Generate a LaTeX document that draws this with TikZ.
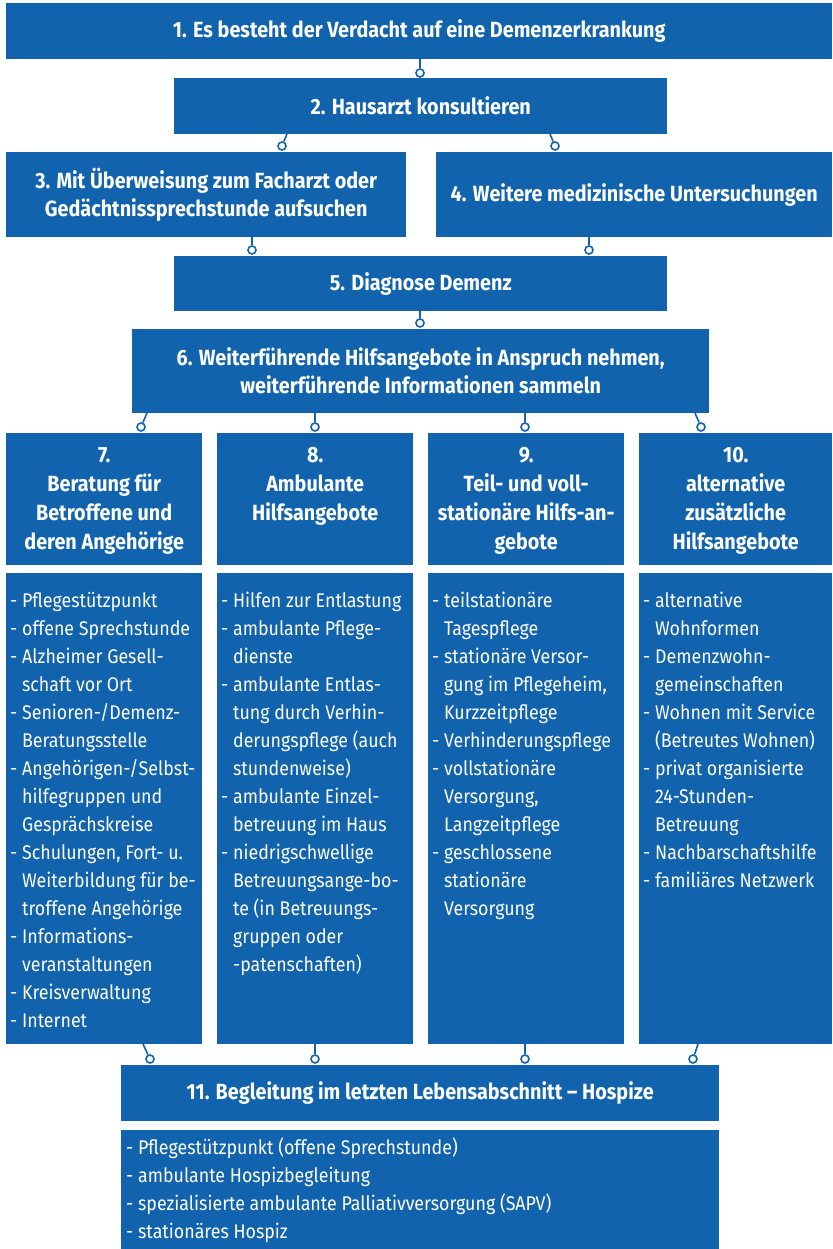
\documentclass[tikz,border=0pt]{standalone}
\usepackage{fontspec}
\setmainfont{Fira Sans}[FakeStretch=0.9]
\definecolor{bl}{RGB}{17,99,173}
\newcommand{\cont}{\hphantom{- }}
\begin{document}
\begin{tikzpicture}[x=1pt,y=-1pt,
  box/.style={fill=bl, draw=none, inner sep=0pt, anchor=north west, text=white,
    font=\bfseries\fontsize{22}{28}\selectfont, align=center},
  htext/.style={inner sep=0pt, anchor=north, text=white, align=center,
    font=\bfseries\fontsize{22}{29}\selectfont},
  ltext/.style={inner sep=0pt, anchor=north west, text=white, align=left,
    font=\fontsize{19.8}{28}\selectfont},
  dot/.style={circle, draw=bl, fill=white, line width=1.6pt, inner sep=0pt, minimum size=8pt},
  conn/.style={draw=bl, line width=1.6pt}]
\useasboundingbox (0,0) rectangle (832,1249);
% main boxes
\node[box, minimum width=826pt, minimum height=56pt] (b1) at (6,3) {1. Es besteht der Verdacht auf eine Demenzerkrankung};
\node[box, minimum width=493pt, minimum height=56pt] (b2) at (174,78) {2. Hausarzt konsultieren};
\node[box, minimum width=400pt, minimum height=85pt] (b3) at (6,152) {3. Mit Überweisung zum Facharzt oder\\Gedächtnissprechstunde aufsuchen};
\node[box, minimum width=396pt, minimum height=85pt] (b4) at (436,152) {4. Weitere medizinische Untersuchungen};
\node[box, minimum width=493pt, minimum height=55pt] (b5) at (174,256) {5. Diagnose Demenz};
\node[box, minimum width=577pt, minimum height=84pt] (b6) at (132,329) {6. Weiterführende Hilfsangebote in Anspruch nehmen,\\weiterführende Informationen sammeln};
% headers
\node[box, minimum width=196pt, minimum height=132pt] (h7) at (6,433) {};
\node[box, minimum width=196pt, minimum height=132pt] (h8) at (217,433) {};
\node[box, minimum width=196pt, minimum height=132pt] (h9) at (428,433) {};
\node[box, minimum width=193pt, minimum height=132pt] (h10) at (639,433) {};
\node[htext] (t7) at ([yshift=-14pt]h7.north) {7.\\Beratung für\\Betroffene und\\deren Angehörige};
\node[htext] (t8) at ([yshift=-14pt]h8.north) {8.\\Ambulante\\Hilfsangebote};
\node[htext] (t9) at ([yshift=-14pt]h9.north) {9.\\Teil- und voll-\\stationäre Hilfs-an-\\gebote};
\node[htext] (t10) at ([yshift=-14pt]h10.north) {10.\\alternative\\zusätzliche\\Hilfsangebote};
% lists
\node[box, minimum width=196pt, minimum height=471pt] (l7) at (6,573) {};
\node[box, minimum width=196pt, minimum height=471pt] (l8) at (217,573) {};
\node[box, minimum width=196pt, minimum height=471pt] (l9) at (428,573) {};
\node[box, minimum width=193pt, minimum height=471pt] (l10) at (639,573) {};
\node[ltext] (u7) at ([xshift=4pt,yshift=-19pt]l7.north west) {- Pflegestützpunkt\\- offene Sprechstunde\\- Alzheimer Gesell-\\\cont schaft vor Ort\\- Senioren-/Demenz-\\\cont Beratungsstelle\\- Angehörigen-/Selbst-\\\cont hilfegruppen und\\\cont Gesprächskreise\\- Schulungen, Fort- u.\\\cont Weiterbildung für be-\\\cont troffene Angehörige\\- Informations-\\\cont veranstaltungen\\- Kreisverwaltung\\- Internet};
\node[ltext] (u8) at ([xshift=4pt,yshift=-19pt]l8.north west) {- Hilfen zur Entlastung\\- ambulante Pflege-\\\cont dienste\\- ambulante Entlas-\\\cont tung durch Verhin-\\\cont derungspflege (auch\\\cont stundenweise)\\- ambulante Einzel-\\\cont betreuung im Haus\\- niedrigschwellige\\\cont Betreuungsange-bo-\\\cont te (in Betreuungs-\\\cont gruppen oder\\\cont -patenschaften)};
\node[ltext] (u9) at ([xshift=4pt,yshift=-19pt]l9.north west) {- teilstationäre\\\cont Tagespflege\\- stationäre Versor-\\\cont gung im Pflegeheim,\\\cont Kurzzeitpflege\\- Verhinderungspflege\\- vollstationäre\\\cont Versorgung,\\\cont Langzeitpflege\\- geschlossene\\\cont stationäre\\\cont Versorgung};
\node[ltext] (u10) at ([xshift=4pt,yshift=-19pt]l10.north west) {- alternative\\\cont Wohnformen\\- Demenzwohn-\\\cont gemeinschaften\\- Wohnen mit Service\\\cont (Betreutes Wohnen)\\- privat organisierte\\\cont 24-Stunden-\\\cont Betreuung\\- Nachbarschaftshilfe\\- familiäres Netzwerk};
% final
\node[box, minimum width=598pt, minimum height=56pt] (b11) at (121,1065) {11. Begleitung im letzten Lebensabschnitt -- Hospize};
\node[box, minimum width=598pt, minimum height=125pt] (l11) at (121,1130) {};
\node[ltext] (u11) at ([xshift=5pt,yshift=-8pt]l11.north west) {- Pflegestützpunkt (offene Sprechstunde)\\- ambulante Hospizbegleitung\\- spezialisierte ambulante Palliativversorgung (SAPV)\\- stationäres Hospiz};
% connectors
\coordinate (s12) at (420,59);   \node[dot] (c12) at (420,73) {};
\coordinate (s23) at (287,134);  \node[dot] (c23) at (282,146) {};
\coordinate (s24) at (550,134);  \node[dot] (c24) at (555,146) {};
\coordinate (s35) at (252,237);  \node[dot] (c35) at (252,250) {};
\coordinate (s45) at (589,237);  \node[dot] (c45) at (589,250) {};
\coordinate (s56) at (420,311);  \node[dot] (c56) at (420,323) {};
\coordinate (s67) at (147,413);  \node[dot] (c67) at (141,427) {};
\coordinate (s68) at (315,413);  \node[dot] (c68) at (315,427) {};
\coordinate (s69) at (525,413);  \node[dot] (c69) at (525,427) {};
\coordinate (s610) at (695,413); \node[dot] (c610) at (701,427) {};
\coordinate (s711) at (143,1044); \node[dot] (c711) at (150,1059) {};
\coordinate (s811) at (315,1044); \node[dot] (c811) at (315,1059) {};
\coordinate (s911) at (525,1044); \node[dot] (c911) at (525,1059) {};
\coordinate (s1011) at (698,1044); \node[dot] (c1011) at (693,1059) {};
\foreach \a in {12,23,24,35,45,56,67,68,69,610,711,811,911,1011}
  \draw[conn] (s\a) -- (c\a);
\end{tikzpicture}
\end{document}
